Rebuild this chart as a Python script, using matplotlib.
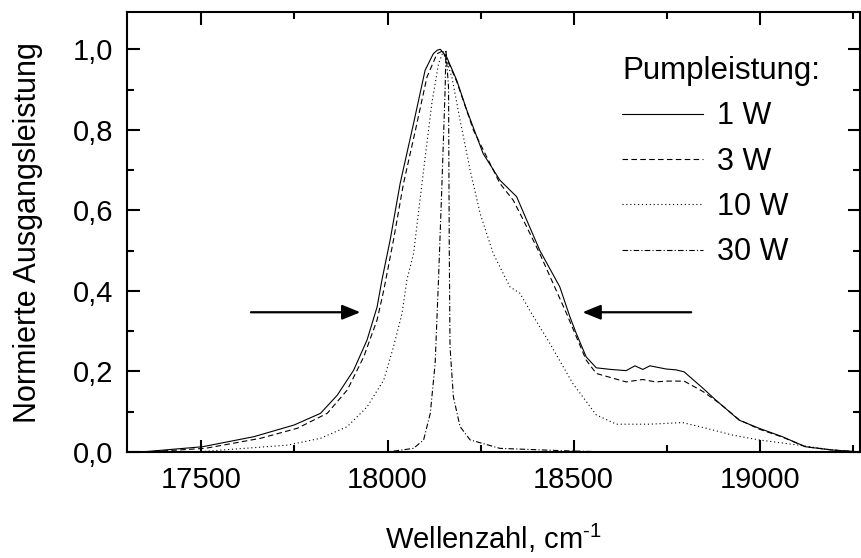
import matplotlib
matplotlib.use("Agg")
import matplotlib.pyplot as plt

plt.rcParams['font.family'] = ['Liberation Sans', 'DejaVu Sans']
plt.rcParams['mathtext.fontset'] = 'custom'
plt.rcParams['mathtext.rm'] = 'Liberation Sans'
plt.rcParams['mathtext.default'] = 'regular'

# Pumpleistung 1 W (solid)
x_1w = [17300, 17338, 17503, 17641, 17749, 17820, 17865, 17909, 17945, 17972, 17985,
        18007, 18034, 18070, 18101, 18123, 18134, 18142, 18159, 18186, 18213, 18257,
        18302, 18347, 18374, 18409, 18463, 18490, 18507, 18534, 18561, 18600, 18641,
        18665, 18686, 18705, 18749, 18775, 18797, 18848, 18882, 18945, 18998, 19061,
        19123, 19194, 19270]
y_1w = [0.0, 0.0, 0.013, 0.038, 0.067, 0.096, 0.141, 0.203, 0.278, 0.36, 0.427,
        0.526, 0.667, 0.816, 0.948, 0.989, 0.998, 1.0, 0.981, 0.923, 0.849, 0.741,
        0.675, 0.634, 0.576, 0.501, 0.41, 0.336, 0.295, 0.236, 0.209, 0.205, 0.202,
        0.214, 0.205, 0.214, 0.206, 0.204, 0.199, 0.158, 0.129, 0.079, 0.059, 0.038,
        0.013, 0.005, 0.0]

# 3 W (dashed)
x_3w = [17300, 17350, 17510, 17659, 17758, 17838, 17892, 17936, 17972, 17990,
        18016, 18043, 18075, 18106, 18133, 18146, 18160, 18186, 18231, 18302,
        18338, 18365, 18409, 18481, 18534, 18561, 18641, 18686, 18720, 18749,
        18797, 18848, 18892, 18945, 18998, 19061, 19123, 19194, 19270]
y_3w = [0.0, 0.0, 0.009, 0.034, 0.059, 0.096, 0.154, 0.236, 0.328, 0.402,
        0.526, 0.667, 0.799, 0.931, 0.989, 0.995, 0.975, 0.92, 0.799, 0.667,
        0.625, 0.576, 0.493, 0.344, 0.228, 0.195, 0.174, 0.18, 0.174, 0.176,
        0.176, 0.15, 0.121, 0.08, 0.057, 0.037, 0.013, 0.005, 0.0]

# 10 W (dotted)
x_10w = [17300, 17500, 17731, 17820, 17892, 17945, 17990, 18016, 18039, 18052,
         18070, 18097, 18119, 18137, 18150, 18173, 18195, 18222, 18249, 18284,
         18329, 18356, 18382, 18436, 18498, 18561, 18615, 18704, 18793, 18856,
         18927, 18998, 19105, 19194, 19270]
y_10w = [0.0, 0.001, 0.017, 0.034, 0.063, 0.112, 0.179, 0.261, 0.344, 0.427,
         0.493, 0.7, 0.865, 0.964, 0.995, 0.931, 0.824, 0.7, 0.592, 0.493,
         0.41, 0.394, 0.352, 0.27, 0.17, 0.092, 0.069, 0.069, 0.073, 0.059,
         0.042, 0.03, 0.017, 0.005, 0.0]

# 30 W (dash-dot)
x_30w = [17300, 17999, 18070, 18097, 18115, 18128, 18137, 18146, 18155, 18157,
         18164, 18166, 18168, 18177, 18195, 18222, 18302, 18476, 18600, 19270]
y_30w = [0.0, 0.0, 0.009, 0.03, 0.096, 0.22, 0.427, 0.658, 0.906, 0.995,
         0.906, 0.5, 0.261, 0.137, 0.063, 0.03, 0.009, 0.003, 0.0, 0.0]

labels = ["1 W", "3 W", "10 W", "30 W"]

fig = plt.figure(figsize=(8.61, 5.58), dpi=100)
ax = fig.add_axes([0.1475, 0.19, 0.8515, 0.788])

lw = 0.8
ax.plot(x_1w, y_1w, color='black', lw=lw, ls='-', label=labels[0])
ax.plot(x_3w, y_3w, color='black', lw=lw, ls=(0, (5, 3)), label=labels[1])
ax.plot(x_10w, y_10w, color='black', lw=lw, ls=(0, (1, 2.5)), label=labels[2])
ax.plot(x_30w, y_30w, color='black', lw=lw, ls=(0, (5, 2, 1, 2)), label=labels[3])

# arrows marking the half width
arrow = dict(arrowstyle='-|>,head_length=1.1,head_width=0.45', color='black', lw=1.6,
             shrinkA=0, shrinkB=0)
ax.annotate('', xy=(17927, 0.347), xytext=(17633, 0.347), arrowprops=arrow)
ax.annotate('', xy=(18524, 0.347), xytext=(18816, 0.347), arrowprops=arrow)

ax.set_xlim(17300, 19270)
ax.set_ylim(0, 1.092)
ax.set_xticks([17500, 18000, 18500, 19000])
ax.set_xticks([17750, 18250, 18750, 19250], minor=True)
ax.set_yticks([0, 0.2, 0.4, 0.6, 0.8, 1.0])
ax.set_yticks([0.1, 0.3, 0.5, 0.7, 0.9], minor=True)
ax.set_yticklabels(['0,0', '0,2', '0,4', '0,6', '0,8', '1,0'])

ax.tick_params(which='both', direction='in', top=True, right=True, labelsize=21, pad=10)
ax.tick_params(which='major', length=9, width=1.5)
ax.tick_params(which='minor', length=5, width=1.5)
for s in ax.spines.values():
    s.set_linewidth(1.5)

ax.set_xlabel('Wellenzahl, cm$^{\u20101}$', fontsize=21, labelpad=20)
ax.set_ylabel('Normierte Ausgangsleistung', fontsize=22, labelpad=21)

leg = ax.legend(title='Pumpleistung:', loc='upper left', bbox_to_anchor=(0.655, 0.935),
                frameon=False, fontsize=22, title_fontsize=22.5, handlelength=2.65,
                handletextpad=0.45, labelspacing=0.5, alignment='left', borderpad=0)

fig.savefig('out.png', dpi=100)
